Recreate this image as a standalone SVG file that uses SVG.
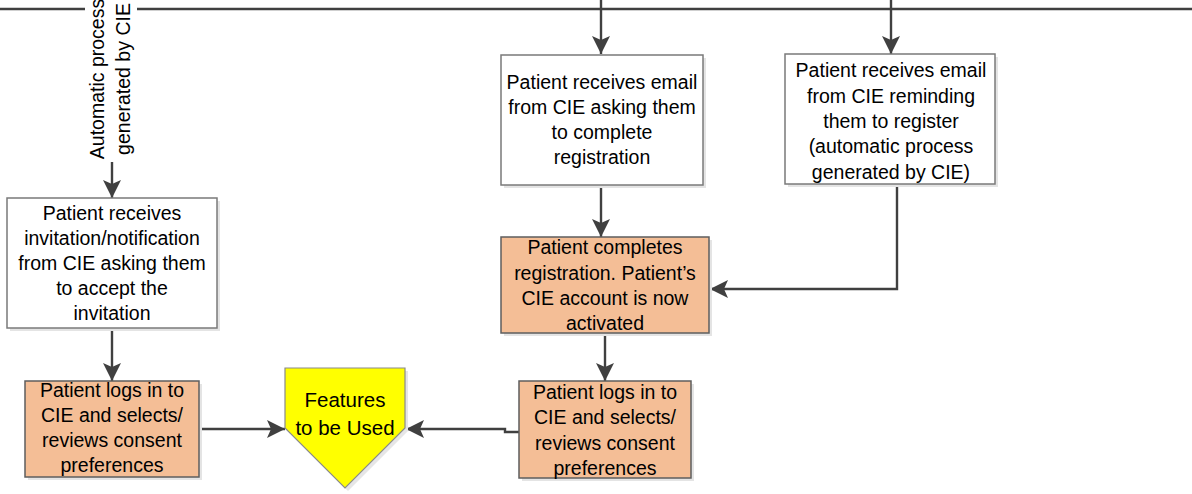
<svg xmlns="http://www.w3.org/2000/svg" width="1192" height="494" viewBox="0 0 1192 494">
  <style>
    .box { stroke: #7a7a7a; stroke-width: 1.5; }
    .white { fill: #ffffff; }
    .orange { fill: #f4be96; stroke: #5e5e5e; }
    .shadow { fill: #e4e4e4; }
    .label { font-family: "Liberation Sans", Arial, sans-serif; font-size: 19.5px; fill: #000; text-anchor: middle; }
    .wire { fill: none; stroke: #404040; stroke-width: 2.4; }
  </style>
  <defs>
    <marker id="arrow" markerUnits="userSpaceOnUse" markerWidth="20" markerHeight="20" viewBox="0 0 20 20" refX="18" refY="10" orient="auto">
      <path d="M0,1 L18,10 L0,19 L4,10 z" fill="#404040"/>
    </marker>
  </defs>
  <rect width="1192" height="494" fill="#ffffff"/>

  <!-- connectors -->
  <g id="connectors">
    <path class="wire" d="M0,9 H85 M137,9 H1192"/>
    <path class="wire" d="M601,0 V54" marker-end="url(#arrow)"/>
    <path class="wire" d="M891,0 V54" marker-end="url(#arrow)"/>
    <path class="wire" d="M112,162 V198" marker-end="url(#arrow)"/>
    <path class="wire" d="M112,328 V381" marker-end="url(#arrow)"/>
    <path class="wire" d="M601,185 V237" marker-end="url(#arrow)"/>
    <path class="wire" d="M605,333 V381" marker-end="url(#arrow)"/>
    <path class="wire" d="M897,184 V289 H710" marker-end="url(#arrow)"/>
    <path class="wire" d="M199,429 H285" marker-end="url(#arrow)"/>
    <path class="wire" d="M519,432 H505 V429 H406" marker-end="url(#arrow)"/>
  </g>

  <!-- rotated annotation on the top line -->
  <g id="auto-label">
    <text class="label" transform="translate(104,79) rotate(-90)">Automatic process</text>
    <text class="label" transform="translate(130,79) rotate(-90)">generated by CIE</text>
  </g>

  <g id="invitation">
    <rect class="shadow" x="10" y="201" width="210" height="130"/>
    <rect class="box white" x="7" y="198" width="210" height="130"/>
    <text class="label" x="112" y="220">Patient receives</text>
    <text class="label" x="112" y="245">invitation/notification</text>
    <text class="label" x="112" y="270">from CIE asking them</text>
    <text class="label" x="112" y="295">to accept the</text>
    <text class="label" x="112" y="320">invitation</text>
  </g>

  <g id="login-left">
    <rect class="shadow" x="28" y="384" width="174" height="96"/>
    <rect class="box orange" x="25" y="381" width="174" height="96"/>
    <text class="label" x="112" y="397">Patient logs in to</text>
    <text class="label" x="112" y="422">CIE and selects/</text>
    <text class="label" x="112" y="447">reviews consent</text>
    <text class="label" x="112" y="472">preferences</text>
  </g>

  <g id="features">
    <polygon points="288,371 408,371 408,431 348,491 288,431" fill="#e6e6e6"/>
    <polygon points="285,368 405,368 405,428 345,488 285,428" fill="#ffff00" stroke="#8a8a8a" stroke-width="1.2"/>
    <text class="label" x="345" y="407" style="font-size:20.5px">Features</text>
    <text class="label" x="345" y="435" style="font-size:20.5px">to be Used</text>
  </g>

  <g id="email-complete">
    <rect class="shadow" x="504" y="58" width="202" height="130"/>
    <rect class="box white" x="501" y="55" width="202" height="130"/>
    <text class="label" x="602" y="89">Patient receives email</text>
    <text class="label" x="602" y="114">from CIE asking them</text>
    <text class="label" x="602" y="139">to complete</text>
    <text class="label" x="602" y="164">registration</text>
  </g>

  <g id="email-remind">
    <rect class="shadow" x="788" y="57" width="210" height="130"/>
    <rect class="box white" x="785" y="54" width="210" height="130"/>
    <text class="label" x="891" y="77">Patient receives email</text>
    <text class="label" x="891" y="103">from CIE reminding</text>
    <text class="label" x="891" y="128">them to register</text>
    <text class="label" x="891" y="153">(automatic process</text>
    <text class="label" x="891" y="179">generated by CIE)</text>
  </g>

  <g id="registration-done">
    <rect class="shadow" x="504" y="240" width="208" height="96"/>
    <rect class="box orange" x="501" y="237" width="208" height="96"/>
    <text class="label" x="605" y="254">Patient completes</text>
    <text class="label" x="605" y="280">registration. Patient’s</text>
    <text class="label" x="605" y="305">CIE account is now</text>
    <text class="label" x="605" y="330">activated</text>
  </g>

  <g id="login-right">
    <rect class="shadow" x="522" y="384" width="172" height="97"/>
    <rect class="box orange" x="519" y="381" width="172" height="97"/>
    <text class="label" x="605" y="399">Patient logs in to</text>
    <text class="label" x="605" y="424">CIE and selects/</text>
    <text class="label" x="605" y="450">reviews consent</text>
    <text class="label" x="605" y="475">preferences</text>
  </g>
</svg>
